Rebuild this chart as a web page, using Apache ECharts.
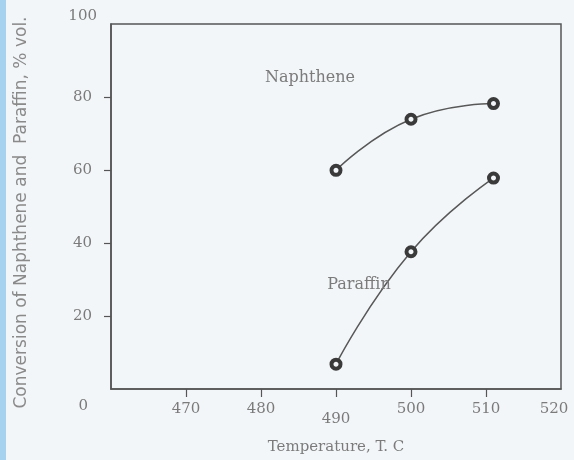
<!DOCTYPE html>
<html>
<head>
<meta charset="utf-8">
<script src="https://cdn.jsdelivr.net/npm/echarts@6/dist/echarts.min.js"></script>
<style>
html,body{margin:0;padding:0;background:#f3f6f9;}
#c{width:574px;height:460px;}
</style>
</head>
<body>
<div id="c"></div>
<script>
var temperatures = [490, 500, 511];
var naphthene = [59.9, 73.9, 78.2];
var paraffin = [6.8, 37.6, 57.8];
var xTickValues = [470, 480, 490, 500, 510];
var xLabelValues = [470, 480, 490, 500, 510, 520];
var yTickValues = [20, 40, 60, 80];
var yLabelValues = [0, 20, 40, 60, 80, 100];

var textColor = '#7b7b7b';
var lineColor = '#555555';

function pairs(xs, ys) { return xs.map(function (x, i) { return [x, ys[i]]; }); }

var chart = echarts.init(document.getElementById('c'), null, {renderer: 'canvas'});
var seriesStyle = {
  type: 'line',
  smooth: true,
  symbol: 'circle',
  symbolSize: 9,
  lineStyle: {color: '#585858', width: 1.5},
  itemStyle: {color: '#f3f6f9', borderColor: '#3a3a3a', borderWidth: 4},
  animation: false,
  z: 3
};
chart.setOption({
  backgroundColor: '#f3f6f9',
  animation: false,
  grid: {left: 111, top: 24, right: 13, bottom: 69, show: true, borderColor: lineColor, borderWidth: 1.5, backgroundColor: 'transparent'},
  xAxis: {
    type: 'value', min: 460, max: 520, interval: 10,
    splitLine: {show: false},
    axisLine: {show: true, lineStyle: {color: lineColor, width: 1.5}},
    axisTick: {show: true, customValues: xTickValues, length: 8, lineStyle: {color: lineColor, width: 1.2}},
    axisLabel: {
      customValues: xLabelValues, margin: 13, color: textColor,
      fontFamily: 'DejaVu Serif', fontSize: 15,
      formatter: function (v) {
        if (v === 490) return '{d|' + v + '}';
        if (v === 520) return '{e|' + v + '}';
        return '{n|' + v + '}';
      },
      rich: {
        n: {fontFamily: 'DejaVu Serif', fontSize: 15, color: textColor},
        d: {fontFamily: 'DejaVu Serif', fontSize: 15, color: textColor, padding: [10, 0, 0, 0]},
        e: {fontFamily: 'DejaVu Serif', fontSize: 15, color: textColor, padding: [0, 14, 0, 0]}
      }
    },
    name: 'Temperature, T. C', nameLocation: 'middle', nameGap: 51,
    nameTextStyle: {fontFamily: 'DejaVu Serif', fontSize: 15, color: textColor}
  },
  yAxis: {
    type: 'value', min: 0, max: 100, interval: 20,
    splitLine: {show: false},
    axisLine: {show: true, lineStyle: {color: lineColor, width: 1.5}},
    axisTick: {show: true, customValues: yTickValues, length: 7, lineStyle: {color: lineColor, width: 1.2}},
    axisLabel: {
      customValues: yLabelValues, margin: 14, color: textColor,
      formatter: function (v) {
        if (v === 100) return '{t|' + v + '}';
        if (v === 0) return '{z|' + v + '}';
        return '{n|' + v + '}';
      },
      rich: {
        n: {fontFamily: 'DejaVu Serif', fontSize: 15, color: textColor, padding: [0, 5, 0, 0]},
        t: {fontFamily: 'DejaVu Serif', fontSize: 15, color: textColor, padding: [0, 0, 16, 0]},
        z: {fontFamily: 'DejaVu Serif', fontSize: 15, color: textColor, padding: [34, 9, 0, 0]}
      }
    },
    name: 'Conversion of Naphthene and  Paraffin, % vol.', nameLocation: 'middle', nameGap: 81, nameRotate: 90,
    nameTextStyle: {fontFamily: 'DejaVu Sans', fontSize: 17, color: '#8a8a8a', padding: [0, 12, 0, 0]}
  },
  graphic: [
    {type: 'rect', left: 0, top: 0, shape: {width: 6, height: 460}, style: {fill: '#a7d2ef'}, silent: true},
    {type: 'text', x: 310, y: 78, style: {text: 'Naphthene', fill: textColor, font: '16px "DejaVu Serif"', align: 'center', verticalAlign: 'middle'}, z: 10},
    {type: 'text', x: 359, y: 285, style: {text: 'Paraffin', fill: textColor, font: '16px "DejaVu Serif"', align: 'center', verticalAlign: 'middle'}, z: 10}
  ],
  series: [
    Object.assign({name: 'Naphthene', data: pairs(temperatures, naphthene)}, seriesStyle),
    Object.assign({name: 'Paraffin', data: pairs(temperatures, paraffin)}, seriesStyle)
  ]
});
</script>
</body>
</html>
